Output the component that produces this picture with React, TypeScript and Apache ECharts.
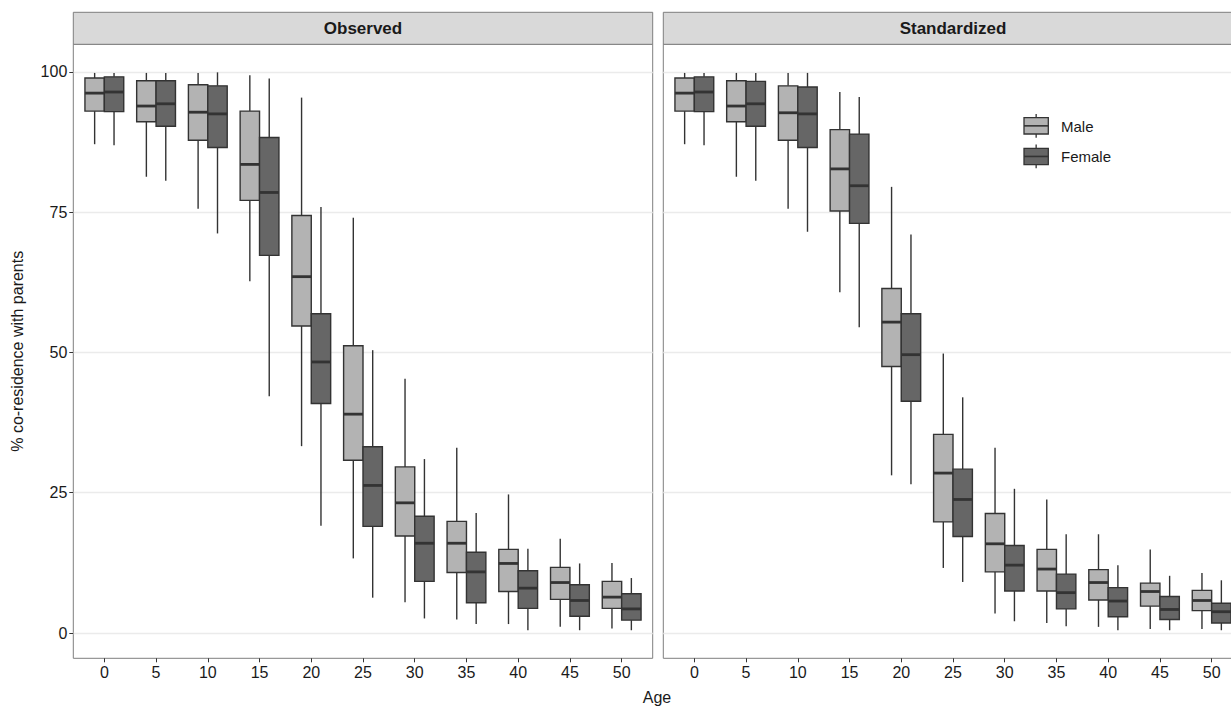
import React, { useEffect, useRef } from "react";
import * as echarts from "echarts";

// ---- data (values in %) : [lower whisker, Q1, median, Q3, upper whisker]
const ages = [0, 5, 10, 15, 20, 25, 30, 35, 40, 45, 50];
const yTicks = [0, 25, 50, 75, 100];
const panels = ["Observed", "Standardized"];
const sexes = ["Male", "Female"];

const observedMale = [
  [87.1, 93.0, 96.2, 98.9, 99.8],
  [81.3, 91.1, 93.9, 98.4, 99.8],
  [75.6, 87.8, 92.8, 97.7, 99.8],
  [62.7, 77.1, 83.5, 93.0, 99.4],
  [33.3, 54.7, 63.5, 74.4, 95.4],
  [13.3, 30.8, 39.0, 51.2, 74.0],
  [5.5, 17.3, 23.2, 29.6, 45.3],
  [2.4, 10.8, 16.0, 19.9, 33.0],
  [1.6, 7.4, 12.4, 14.9, 24.7],
  [1.1, 6.0, 9.0, 11.7, 16.8],
  [0.8, 4.4, 6.4, 9.2, 12.5],
];
const observedFemale = [
  [86.9, 92.9, 96.4, 99.1, 99.8],
  [80.6, 90.3, 94.3, 98.4, 99.8],
  [71.2, 86.5, 92.5, 97.5, 99.9],
  [42.2, 67.3, 78.5, 88.3, 98.8],
  [19.1, 40.9, 48.3, 56.9, 75.9],
  [6.3, 19.0, 26.3, 33.2, 50.4],
  [2.6, 9.2, 16.0, 20.8, 31.0],
  [1.6, 5.4, 10.9, 14.4, 21.4],
  [0.5, 4.4, 8.0, 11.1, 15.0],
  [0.5, 3.0, 5.8, 8.6, 12.4],
  [0.5, 2.3, 4.3, 7.0, 9.8],
];
const standardizedMale = [
  [87.1, 93.0, 96.2, 98.9, 99.8],
  [81.3, 91.1, 93.9, 98.4, 99.8],
  [75.6, 87.8, 92.7, 97.5, 99.8],
  [60.7, 75.2, 82.7, 89.7, 96.4],
  [28.1, 47.5, 55.4, 61.4, 79.5],
  [11.6, 19.8, 28.5, 35.4, 49.8],
  [3.5, 10.9, 15.9, 21.3, 33.0],
  [1.8, 7.5, 11.4, 14.9, 23.8],
  [1.1, 5.9, 9.0, 11.3, 17.6],
  [0.7, 4.8, 7.4, 8.9, 14.9],
  [0.7, 4.0, 5.8, 7.6, 10.7],
];
const standardizedFemale = [
  [86.9, 92.9, 96.4, 99.1, 99.8],
  [80.6, 90.3, 94.3, 98.3, 99.8],
  [71.5, 86.5, 92.5, 97.3, 99.8],
  [54.5, 73.0, 79.7, 88.9, 95.5],
  [26.5, 41.3, 49.6, 56.9, 71.0],
  [9.1, 17.2, 23.8, 29.2, 42.0],
  [2.1, 7.5, 12.1, 15.6, 25.7],
  [1.2, 4.3, 7.2, 10.5, 17.6],
  [0.5, 2.9, 5.7, 8.1, 12.1],
  [0.5, 2.4, 4.2, 6.5, 10.2],
  [0.5, 1.8, 3.8, 5.3, 9.4],
];

// ---- style
const FONT = "'Liberation Sans', Arial, Helvetica, sans-serif";
const MALE_FILL = "#b3b3b3";
const FEMALE_FILL = "#666666";
const EDGE = "#333333";
const BORDER = "#7f7f7f";

const PANEL_LEFT = [73.3, 663.3];
const PANEL_TOP = 44.3;
const PANEL_W = 579.4;
const PANEL_H = 614;
const STRIP_TOP = 12.3;
const CANVAS_W = 1260; // wider than the window: the right panel is cut off, as in the reference

const HALF_BOX = 0.9375; // in age units (box width 0.375 of category step)

function makeRender(offset: number, fill: string) {
  return (params: any, api: any) => {
    const x = api.value(0) + offset;
    const lo = api.coord([x, api.value(1)]);
    const q1 = api.coord([x, api.value(2)]);
    const md = api.coord([x, api.value(3)]);
    const q3 = api.coord([x, api.value(4)]);
    const hi = api.coord([x, api.value(5)]);
    const l = api.coord([x - HALF_BOX, api.value(4)]);
    const r = api.coord([x + HALF_BOX, api.value(2)]);
    return {
      type: "group",
      children: [
        { type: "line", shape: { x1: lo[0], y1: lo[1], x2: q1[0], y2: q1[1] }, style: { stroke: EDGE, lineWidth: 1.4 } },
        { type: "line", shape: { x1: hi[0], y1: hi[1], x2: q3[0], y2: q3[1] }, style: { stroke: EDGE, lineWidth: 1.4 } },
        {
          type: "rect",
          shape: { x: l[0], y: l[1], width: r[0] - l[0], height: r[1] - l[1] },
          style: { fill, stroke: EDGE, lineWidth: 1.4 },
        },
        { type: "line", shape: { x1: l[0], y1: md[1], x2: r[0], y2: md[1] }, style: { stroke: EDGE, lineWidth: 2.8 } },
      ],
    };
  };
}

function toRows(vals: number[][]) {
  return ages.map((a, i) => [a, ...vals[i]]);
}

export default function App() {
  const ref = useRef<HTMLDivElement>(null);
  useEffect(() => {
    if (!ref.current) return;
    const chart = echarts.init(ref.current, undefined, { renderer: "svg" });
    const grids = PANEL_LEFT.map((left) => ({
      left,
      top: PANEL_TOP,
      width: PANEL_W,
      height: PANEL_H,
      show: true,
      borderColor: BORDER,
      borderWidth: 1,
      backgroundColor: "transparent",
      containLabel: false,
    }));
    const xAxes = PANEL_LEFT.map((_, i) => ({
      type: "value",
      gridIndex: i,
      position: "bottom",
      min: -3,
      max: 53,
      axisLine: { show: false, onZero: false },
      axisTick: { show: true, length: 4, lineStyle: { color: EDGE }, customValues: ages },
      axisLabel: { show: true, customValues: ages, color: "#1a1a1a", fontSize: 16, fontFamily: FONT, margin: 6 },
      splitLine: { show: false },
    }));
    const yAxes = PANEL_LEFT.map((_, i) => ({
      type: "value",
      gridIndex: i,
      position: "left",
      min: -4.5,
      max: 104.9,
      axisLine: { show: false, onZero: false },
      axisTick: { show: i === 0, length: 4, lineStyle: { color: EDGE }, customValues: yTicks },
      axisLabel: { show: i === 0, customValues: yTicks, color: "#1a1a1a", fontSize: 16, fontFamily: FONT, margin: 6 },
      splitLine: { show: true, lineStyle: { color: "#ebebeb", width: 1.3 } },
      name: i === 0 ? "% co-residence with parents" : "",
      nameLocation: "middle",
      nameGap: 48,
      nameTextStyle: { color: "#1a1a1a", fontSize: 16, fontFamily: FONT },
    }));
    const datasets = [
      [observedMale, observedFemale],
      [standardizedMale, standardizedFemale],
    ];
    const series: any[] = [];
    datasets.forEach((pair, gi) => {
      pair.forEach((vals, si) => {
        series.push({
          type: "custom",
          name: sexes[si],
          xAxisIndex: gi,
          yAxisIndex: gi,
          renderItem: makeRender(si === 0 ? -HALF_BOX : HALF_BOX, si === 0 ? MALE_FILL : FEMALE_FILL),
          encode: { x: 0, y: [1, 2, 3, 4, 5] },
          data: toRows(vals),
          clip: false,
        });
      });
    });

    const strips: any[] = [];
    PANEL_LEFT.forEach((left, i) => {
      strips.push({
        type: "rect",
        shape: { x: left, y: STRIP_TOP, width: PANEL_W, height: PANEL_TOP - STRIP_TOP },
        style: { fill: "#d9d9d9", stroke: BORDER, lineWidth: 1 },
        silent: true,
      });
      strips.push({
        type: "text",
        x: left + PANEL_W / 2,
        y: (STRIP_TOP + PANEL_TOP) / 2,
        style: {
          text: panels[i],
          fill: "#1a1a1a",
          font: `bold 17px ${FONT}`,
          textAlign: "center",
          textVerticalAlign: "middle",
        },
      });
    });

    // legend keys
    const legendItems: any[] = [];
    const keyX = 1024;
    const keyW = 24.3;
    [
      { y: 117.7, fill: MALE_FILL, label: sexes[0] },
      { y: 148.3, fill: FEMALE_FILL, label: sexes[1] },
    ].forEach((k) => {
      const cx = keyX + keyW / 2;
      legendItems.push(
        { type: "line", shape: { x1: cx, y1: k.y - 3.7, x2: cx, y2: k.y + 20 }, style: { stroke: EDGE, lineWidth: 1.3 } },
        { type: "rect", shape: { x: keyX, y: k.y, width: keyW, height: 16.3 }, style: { fill: k.fill, stroke: EDGE, lineWidth: 1.3 } },
        { type: "line", shape: { x1: keyX, y1: k.y + 8.15, x2: keyX + keyW, y2: k.y + 8.15 }, style: { stroke: EDGE, lineWidth: 1.6 } },
        {
          type: "text",
          x: 1061,
          y: k.y + 8.5,
          style: { text: k.label, fill: "#1a1a1a", font: `15px ${FONT}`, textVerticalAlign: "middle" },
        }
      );
    });

    chart.setOption({
      animation: false,
      backgroundColor: "#ffffff",
      grid: grids,
      xAxis: xAxes,
      yAxis: yAxes,
      series,
      graphic: [
        ...strips,
        ...legendItems,
        {
          type: "text",
          x: 657,
          y: 697,
          style: { text: "Age", fill: "#1a1a1a", font: `16px ${FONT}`, textAlign: "center", textVerticalAlign: "middle" },
        },
      ],
    });
    return () => chart.dispose();
  }, []);
  return (
    <div
      style={{ position: "fixed", left: 0, top: 0, width: 1231, height: 706, overflow: "hidden", background: "#fff" }}
    >
      <div ref={ref} style={{ width: CANVAS_W, height: 706 }} />
    </div>
  );
}
